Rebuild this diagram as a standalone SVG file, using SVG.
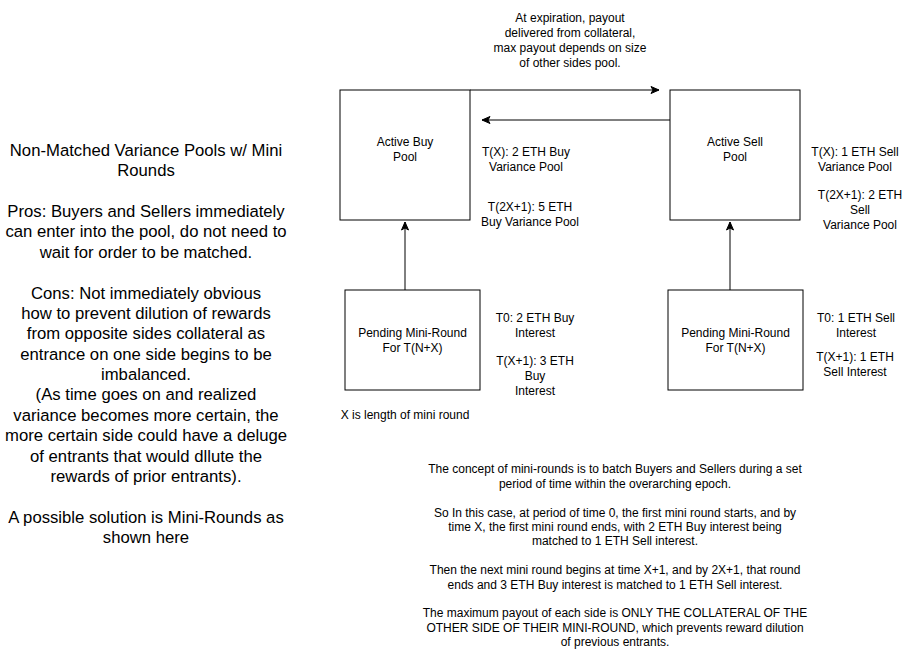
<svg xmlns="http://www.w3.org/2000/svg" width="911" height="661" viewBox="0 0 911 661">
<style>
text{font-family:"Liberation Sans",Arial,sans-serif;fill:#000;text-anchor:middle}
.s{font-size:12px}
.l{font-size:16.7px}
.box{fill:#fff;stroke:#000;stroke-width:1}
.edge{fill:none;stroke:#000;stroke-width:1}
</style>
<defs>
<marker id="arr" markerUnits="userSpaceOnUse" markerWidth="10" markerHeight="10" viewBox="0 0 10 10" refX="9" refY="5" orient="auto">
<path d="M1,1.5 L9,5 L1,8.5 L3,5 Z" fill="#000" stroke="#000" stroke-width="1"/>
</marker>
</defs>
<rect width="911" height="661" fill="#fff"/>
<g id="connectors">
<path class="edge" d="M470,90 L659,90" marker-end="url(#arr)"/>
<path class="edge" d="M670,120 L482,120" marker-end="url(#arr)"/>
<path class="edge" d="M405,290 L405,222" marker-end="url(#arr)"/>
<path class="edge" d="M730,290 L730,222" marker-end="url(#arr)"/>
</g>
<g id="active-buy">
<rect class="box" x="340" y="90" width="130" height="130"/>
<text class="s" x="405" y="145.5">Active Buy</text>
<text class="s" x="405" y="160.5">Pool</text>
</g>
<g id="active-sell">
<rect class="box" x="670" y="90" width="130" height="130"/>
<text class="s" x="735" y="145.5">Active Sell</text>
<text class="s" x="735" y="160.5">Pool</text>
</g>
<g id="pending-buy">
<rect class="box" x="345" y="290" width="135" height="100"/>
<text class="s" x="412.5" y="336.5">Pending Mini-Round</text>
<text class="s" x="412.5" y="351.5">For T(N+X)</text>
</g>
<g id="pending-sell">
<rect class="box" x="668" y="290" width="135" height="100"/>
<text class="s" x="735.5" y="336.5">Pending Mini-Round</text>
<text class="s" x="735.5" y="351.5">For T(N+X)</text>
</g>
<g id="label-expiration">
<text class="s" x="570" y="22.3">At expiration, payout</text>
<text class="s" x="570" y="37.3">delivered from collateral,</text>
<text class="s" x="570" y="52.3">max payout depends on size</text>
<text class="s" x="570" y="67.3">of other sides pool.</text>
</g>
<g id="label-buy-pool">
<text class="s" x="526" y="156.3">T(X): 2 ETH Buy</text>
<text class="s" x="526" y="171.3">Variance Pool</text>
<text class="s" x="530" y="210.8">T(2X+1): 5 ETH</text>
<text class="s" x="530" y="225.8">Buy Variance Pool</text>
</g>
<g id="label-sell-pool">
<text class="s" x="855" y="156.3">T(X): 1 ETH Sell</text>
<text class="s" x="855" y="171.3">Variance Pool</text>
<text class="s" x="860" y="199.3">T(2X+1): 2 ETH</text>
<text class="s" x="860" y="214.3">Sell</text>
<text class="s" x="860" y="229.3">Variance Pool</text>
</g>
<g id="label-buy-interest">
<text class="s" x="535" y="322.3">T0: 2 ETH Buy</text>
<text class="s" x="535" y="337.3">Interest</text>
<text class="s" x="535" y="365.3">T(X+1): 3 ETH</text>
<text class="s" x="535" y="380.3">Buy</text>
<text class="s" x="535" y="395.3">Interest</text>
</g>
<g id="label-sell-interest">
<text class="s" x="856" y="322.3">T0: 1 ETH Sell</text>
<text class="s" x="856" y="337.3">Interest</text>
<text class="s" x="855" y="361.3">T(X+1): 1 ETH</text>
<text class="s" x="855" y="376.3">Sell Interest</text>
</g>
<g id="label-x">
<text class="s" x="405" y="419.3">X is length of mini round</text>
</g>
<g id="label-left">
<text class="l" x="146" y="156"><tspan x="146">Non-Matched Variance Pools w/ Mini</tspan><tspan x="146" dy="20.37">Rounds</tspan><tspan x="146" dy="40.74">Pros: Buyers and Sellers immediately</tspan><tspan x="146" dy="20.37">can enter into the pool, do not need to</tspan><tspan x="146" dy="20.37">wait for order to be matched.</tspan><tspan x="146" dy="40.74">Cons: Not immediately obvious</tspan><tspan x="146" dy="20.37">how to prevent dilution of rewards</tspan><tspan x="146" dy="20.37">from opposite sides collateral as</tspan><tspan x="146" dy="20.37">entrance on one side begins to be</tspan><tspan x="146" dy="20.37">imbalanced.</tspan><tspan x="146" dy="20.37">(As time goes on and realized</tspan><tspan x="146" dy="20.37">variance becomes more certain, the</tspan><tspan x="146" dy="20.37">more certain side could have a deluge</tspan><tspan x="146" dy="20.37">of entrants that would dllute the</tspan><tspan x="146" dy="20.37">rewards of prior entrants).</tspan><tspan x="146" dy="40.74">A possible solution is Mini-Rounds as</tspan><tspan x="146" dy="20.37">shown here</tspan></text>
</g>
<g id="label-bottom">
<text class="s" x="615" y="473.3"><tspan x="615">The concept of mini-rounds is to batch Buyers and Sellers during a set</tspan><tspan x="615" dy="14.4">period of time within the overarching epoch.</tspan><tspan x="615" dy="28.8">So In this case, at period of time 0, the first mini round starts, and by</tspan><tspan x="615" dy="14.4">time X, the first mini round ends, with 2 ETH Buy interest being</tspan><tspan x="615" dy="14.4">matched to 1 ETH Sell interest.</tspan><tspan x="615" dy="28.8">Then the next mini round begins at time X+1, and by 2X+1, that round</tspan><tspan x="615" dy="14.4">ends and 3 ETH Buy interest is matched to 1 ETH Sell interest.</tspan><tspan x="615" dy="28.8">The maximum payout of each side is ONLY THE COLLATERAL OF THE</tspan><tspan x="615" dy="14.4">OTHER SIDE OF THEIR MINI-ROUND, which prevents reward dilution</tspan><tspan x="615" dy="14.4">of previous entrants.</tspan></text>
</g>
</svg>
